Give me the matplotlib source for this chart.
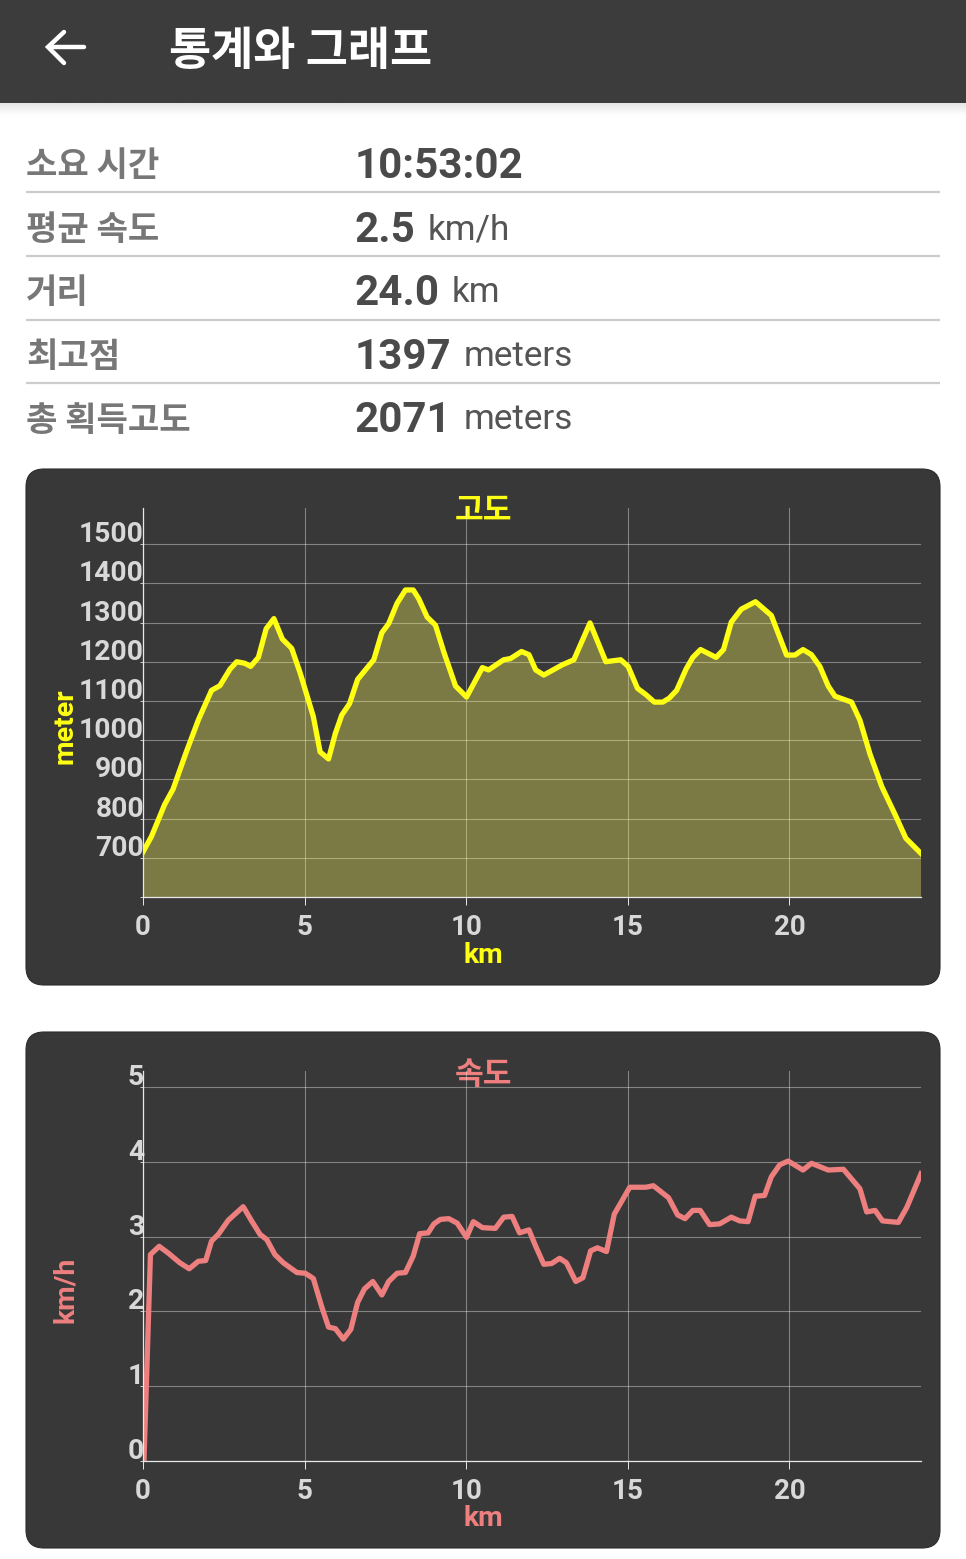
import numpy as np
import matplotlib
matplotlib.use('Agg')
import matplotlib.pyplot as plt
from matplotlib.patches import FancyBboxPatch, Rectangle
from matplotlib.transforms import ScaledTranslation

plt.rcParams['font.family'] = ['Roboto', 'Noto Sans CJK KR', 'DejaVu Sans']

W, H = 966, 1559

# summary rows
row_labels = ['소요 시간', '평균 속도', '거리', '최고점', '총 획득고도']
row_values = ['10:53:02', '2.5', '24.0', '1397', '2071']
row_units = ['', 'km/h', 'km', 'meters', 'meters']

# elevation profile
alt_km = [0, 0.26, 0.67, 0.93, 1.34, 1.71, 2.12, 2.38, 2.69, 2.90, 3.15, 3.33, 3.57, 3.81, 4.05,
          4.31, 4.60, 4.86, 5.27, 5.48, 5.74, 5.95, 6.15, 6.39, 6.64, 7.14, 7.39, 7.60, 7.86,
          8.12, 8.36, 8.53, 8.79, 9.05, 9.31, 9.67, 10.01, 10.50, 10.69, 11.16, 11.37, 11.71,
          11.94, 12.15, 12.40, 12.97, 13.33, 13.83, 14.32, 14.78, 15.01, 15.30, 15.56, 15.82,
          16.08, 16.28, 16.51, 16.80, 17.01, 17.25, 17.73, 17.96, 18.20, 18.51, 18.95, 19.44,
          19.91, 20.17, 20.42, 20.68, 20.94, 21.20, 21.41, 21.92, 22.18, 22.49, 22.86, 23.27,
          23.60, 24.07]
alt_m = [715, 754, 836, 875, 970, 1051, 1127, 1139, 1181, 1200, 1196, 1188, 1211, 1284, 1310,
         1258, 1234, 1172, 1060, 970, 952, 1017, 1064, 1093, 1155, 1205, 1274, 1297, 1349,
         1383, 1383, 1361, 1314, 1293, 1224, 1138, 1110, 1185, 1179, 1205, 1208, 1226,
         1218, 1179, 1166, 1192, 1205, 1299, 1200, 1205, 1188, 1132, 1116, 1097,
         1097, 1107, 1127, 1181, 1211, 1231, 1211, 1231, 1301, 1334, 1353, 1318,
         1217, 1217, 1231, 1218, 1188, 1138, 1112, 1097, 1051, 965, 881, 810,
         750, 711]

# speed profile
spd_km = [0.03, 0.23, 0.50, 0.78, 1.14, 1.43, 1.71, 1.94, 2.12, 2.33, 2.64, 3.10, 3.36, 3.62, 3.83,
          4.08, 4.34, 4.76, 5.02, 5.27, 5.53, 5.74, 5.95, 6.20, 6.43, 6.64, 6.85, 7.11, 7.39,
          7.60, 7.86, 8.12, 8.36, 8.56, 8.82, 9.00, 9.20, 9.46, 9.72, 10.01, 10.22, 10.50,
          10.90, 11.16, 11.42, 11.65, 11.94, 12.15, 12.40, 12.64, 12.89, 13.10, 13.39, 13.61,
          13.85, 14.06, 14.34, 14.58, 15.06, 15.56, 15.79, 16.26, 16.54, 16.77, 17.01, 17.24,
          17.53, 17.84, 18.20, 18.46, 18.72, 18.94, 19.23, 19.44, 19.70, 19.96, 20.42, 20.68,
          21.20, 21.67, 22.18, 22.39, 22.65, 22.88, 23.37, 23.63, 24.07]
spd_v = [0, 2.76, 2.87, 2.78, 2.65, 2.57, 2.67, 2.68, 2.94, 3.03, 3.22, 3.40, 3.21, 3.03, 2.96,
         2.76, 2.65, 2.52, 2.51, 2.44, 2.06, 1.79, 1.77, 1.63, 1.76, 2.12, 2.30, 2.40, 2.22,
         2.40, 2.51, 2.52, 2.74, 3.04, 3.05, 3.17, 3.23, 3.24, 3.18, 2.99, 3.20, 3.12,
         3.11, 3.26, 3.27, 3.05, 3.09, 2.87, 2.63, 2.64, 2.71, 2.65, 2.40, 2.45,
         2.81, 2.85, 2.80, 3.30, 3.66, 3.66, 3.68, 3.52, 3.29, 3.24, 3.35, 3.35,
         3.16, 3.17, 3.26, 3.21, 3.20, 3.54, 3.55, 3.80, 3.96, 4.01, 3.89, 3.98,
         3.89, 3.90, 3.64, 3.33, 3.35, 3.21, 3.19, 3.39, 3.84]

x_ticks = [0, 5, 10, 15, 20]
alt_ticks = [600, 700, 800, 900, 1000, 1100, 1200, 1300, 1400, 1500]
alt_ticklabels = ['', '700', '800', '900', '1000', '1100', '1200', '1300', '1400', '1500']
spd_ticks = [0, 1, 2, 3, 4, 5]

YELLOW = '#ffff14'
PINK = '#ee7f7f'
CARD = '#383838'
TICK = '#d8d8d8'

fig = plt.figure(figsize=(W / 100, H / 100), dpi=100, facecolor='white')

# page layer in pixel coordinates
bg = fig.add_axes([0, 0, 1, 1], zorder=0)
bg.set_xlim(0, W)
bg.set_ylim(H, 0)
bg.axis('off')

bg.add_patch(Rectangle((0, 0), W, 103, color='#3c3c3c', lw=0))
shadow = np.linspace(0.9, 1.0, 12).reshape(-1, 1)
bg.imshow(shadow, extent=(0, W, 116, 103), cmap='gray', vmin=0, vmax=1, aspect='auto')
bg.set_xlim(0, W)
bg.set_ylim(H, 0)

bg.plot([49, 84], [47, 47], color='white', lw=3.2, solid_capstyle='round')
bg.plot([64, 48, 64], [32, 47, 63], color='white', lw=3.2, solid_capstyle='round', solid_joinstyle='miter')
bg.text(169, 52, '통계와 그래프', color='white', fontsize=33, va='center', ha='left',
        fontweight='bold', family=['Noto Sans CJK KR'])

sep_y = [192, 256, 320, 383]
for y in sep_y:
    bg.plot([26, 940], [y, y], color='#cccccc', lw=1.6, solid_capstyle='butt')

base_y = [178, 242, 305, 369, 432]
unit_x = [0, 428, 452, 464, 464]
label_y = [165, 229, 292, 356, 420]
for i in range(5):
    bg.text(26, label_y[i], row_labels[i], color='#777777', fontsize=24.6, fontweight='bold',
            va='center', ha='left', family=['Noto Sans CJK KR'])
    bg.text(355, base_y[i], row_values[i], color='#4a4a4a', fontsize=30.3, fontweight='bold',
            va='baseline', ha='left')
    if row_units[i]:
        bg.text(unit_x[i], base_y[i] - 3, row_units[i], color='#555555', fontsize=25.3,
                va='baseline', ha='left')

for top, bottom in [(469, 985), (1032, 1548)]:
    bg.add_patch(FancyBboxPatch((26, top), 914, bottom - top, boxstyle='round,pad=0,rounding_size=18',
                                fc=CARD, ec='#2c2c2c', lw=0.8))


def chart(top, bottom, ylim, yticks, yticklabels, color, title, ylabel, title_y, xlabel_y, ylabel_y):
    ax = fig.add_axes([143 / W, 1 - bottom / H, (921 - 143) / W, (bottom - top) / H], zorder=2)
    ax.patch.set_alpha(0)
    ax.set_xlim(0, 24.07)
    ax.set_ylim(*ylim)
    for s in ['top', 'right']:
        ax.spines[s].set_visible(False)
    for s in ['left', 'bottom']:
        ax.spines[s].set_color('#e8e8e8')
        ax.spines[s].set_linewidth(0.9)
    ax.set_xticks(x_ticks)
    ax.set_xticklabels([str(v) for v in x_ticks])
    ax.set_yticks(yticks)
    ax.set_yticklabels(yticklabels, va='baseline')
    ax.tick_params(axis='x', length=6, width=0.7, color='#e8e8e8', labelcolor=TICK, labelsize=20, pad=6.5)
    ax.tick_params(axis='y', length=2, width=0.7, color='#cccccc', labelcolor=TICK, labelsize=20.3, pad=-2.7)
    for lab in ax.get_xticklabels() + ax.get_yticklabels():
        lab.set_fontweight('bold')
    # the y labels sit just above their grid lines
    lift = ScaledTranslation(0, 2 / 100, fig.dpi_scale_trans)
    for lab in ax.get_yticklabels():
        lab.set_transform(lab.get_transform() + lift)
    ax.grid(True, color='white', alpha=0.38, lw=0.8)
    ax.set_axisbelow(True)
    bg.text(483, title_y, title, color=color, fontsize=22.5, fontweight='bold', ha='center', va='center',
            family=['Noto Sans CJK KR'])
    bg.text(483, xlabel_y, 'km', color=color, fontsize=20.5, fontweight='bold', ha='center', va='center')
    bg.text(65, ylabel_y, ylabel, color=color, fontsize=20.5, fontweight='bold', ha='center', va='center',
            rotation=90)
    return ax


ax1 = chart(508, 897, (600, 1592), alt_ticks, alt_ticklabels, YELLOW, '고도', 'meter', 511, 955, 726)
ax1.fill_between(alt_km, alt_m, 600, facecolor=(1.0, 0.98, 0.38), alpha=0.34, lw=0)
ax1.plot(alt_km, alt_m, color=YELLOW, lw=3.8)

ax2 = chart(1071, 1461, (0, 5.214), spd_ticks, [str(v) for v in spd_ticks], PINK, '속도', 'km/h', 1075, 1518, 1290)
ax2.plot(spd_km, spd_v, color=PINK, lw=3.8)

fig.savefig('out.png', dpi=100)
